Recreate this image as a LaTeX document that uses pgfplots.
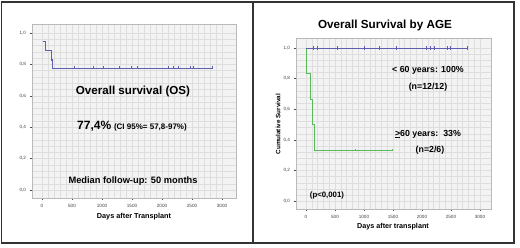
\documentclass[border=0pt]{standalone}
\usepackage{pgfplots}
\pgfplotsset{compat=1.18}
\usepackage{fontspec}
\setmainfont{Liberation Sans}
\definecolor{kmblue}{RGB}{95,95,175}
\definecolor{kmgreen}{RGB}{90,185,90}
\definecolor{bgplot}{RGB}{243,243,243}
\definecolor{gridc}{RGB}{222,222,222}
\pgfplotsset{
  kmaxis/.style={
    scale only axis,
    axis background/.style={fill=bgplot},
    axis line style={draw=gray!55, line width=0.5pt},
    tick align=outside,
    xtick pos=left, ytick pos=left,
    major tick length=2pt, minor tick length=0pt,
    tick style={draw=black!70, line width=0.4pt},
    xtick={0,500,1000,1500,2000,2500,3000},
    ytick={0,0.2,0.4,0.6,0.8,1.0},
    minor x tick num=4, minor y tick num=4,
    grid=both,
    major grid style={draw=gridc, line width=0.3pt},
    minor grid style={draw=gridc, line width=0.3pt},
    tick label style={font=\fontsize{4.6}{5}\selectfont, text=black!75},
    /pgf/number format/assume math mode=true,
    yticklabel style={/pgf/number format/.cd, fixed, fixed zerofill, precision=1, use comma},
    xticklabel style={/pgf/number format/.cd, fixed, 1000 sep={}},
    xticklabel shift=0.5pt, yticklabel shift=0.5pt,
    clip=false,
  }
}
\begin{document}
\begin{tikzpicture}[x=1pt,y=1pt]
\useasboundingbox (0pt,0pt) rectangle (520pt,248pt);
\fill[white] (0pt,0pt) rectangle (520pt,248pt);
% Left panel
\begin{axis}[kmaxis, at={(32pt,50pt)}, anchor=south west, width=204pt, height=174pt,
  xmin=-167, xmax=3233, ymin=-0.051, ymax=1.057]
\addplot[const plot, color=kmblue, line width=0.6pt] coordinates {
  (10,0.944) (60,0.889) (150,0.833) (170,0.778) (2830,0.778)};
\addplot[only marks, mark=|, mark size=1.6pt, color=kmblue, mark options={line width=0.5pt}] coordinates {
  (155,0.833) (533,0.778) (850,0.778) (1017,0.778) (1283,0.778) (1483,0.778) (1583,0.778)
  (2100,0.778) (2183,0.778) (2267,0.778) (2467,0.778) (2517,0.778) (2830,0.778)};
\end{axis}
\node[font=\fontsize{11.6}{13}\selectfont\bfseries] at (133pt,156pt) {Overall survival (OS)};
\node[anchor=base] at (132pt,118pt) {{\fontsize{12}{14}\selectfont\bfseries 77,4\%} {\fontsize{8}{9}\selectfont\bfseries (CI 95\%= 57,8-97\%)}};
\node[font=\fontsize{9.3}{11}\selectfont\bfseries] at (133pt,67pt) {Median follow-up: 50 months};
\node[font=\fontsize{7.3}{9}\selectfont\bfseries] at (134pt,31pt) {Days after Transplant};
% Right panel
\begin{axis}[kmaxis, at={(296pt,39pt)}, anchor=south west, width=195pt, height=171pt,
  xmin=-172, xmax=3190, ymin=-0.052, ymax=1.065]
\addplot[const plot, color=kmgreen, line width=0.6pt] coordinates {
  (0,1.0) (5,0.833) (70,0.667) (110,0.5) (140,0.333) (1483,0.333)};
\addplot[only marks, mark=|, mark size=1.4pt, color=kmgreen, mark options={line width=0.5pt}] coordinates {
  (845,0.333) (1483,0.333)};
\addplot[color=kmblue, line width=0.6pt] coordinates {(0,1.0) (2776,1.0)};
\addplot[only marks, mark=|, mark size=1.6pt, color=kmblue, mark options={line width=0.5pt}] coordinates {
  (121,1.0) (190,1.0) (534,1.0) (1000,1.0) (1259,1.0) (1552,1.0) (2069,1.0)
  (2138,1.0) (2207,1.0) (2431,1.0) (2483,1.0) (2776,1.0)};
\end{axis}
\node[font=\fontsize{11.7}{13}\selectfont\bfseries] at (385pt,223pt) {Overall Survival by AGE};
\node[font=\fontsize{8.8}{10}\selectfont\bfseries] at (428pt,178pt) {< 60 years: 100\%};
\node[font=\fontsize{8.8}{10}\selectfont\bfseries] at (428pt,161pt) {(n=12/12)};
\node[font=\fontsize{8.8}{10}\selectfont\bfseries] at (428pt,114pt) {\underline{>}60 years:\ \ 33\%};
\node[font=\fontsize{8.8}{10}\selectfont\bfseries] at (430pt,98pt) {(n=2/6)};
\node[font=\fontsize{7.8}{9}\selectfont\bfseries] at (327pt,53pt) {(p<0,001)};
\node[font=\fontsize{7.2}{9}\selectfont\bfseries] at (393pt,21pt) {Days after transplant};
\node[font=\fontsize{6.3}{8}\selectfont\bfseries, rotate=90] at (278pt,124pt) {Cumulative Survival};
% panel frames
\draw[line width=1.8pt, color=black!80] (1.5pt,246pt) rectangle (514pt,5pt);
\draw[line width=1.8pt, color=black!80] (253pt,246pt) -- (253pt,5pt);
\end{tikzpicture}
\end{document}
